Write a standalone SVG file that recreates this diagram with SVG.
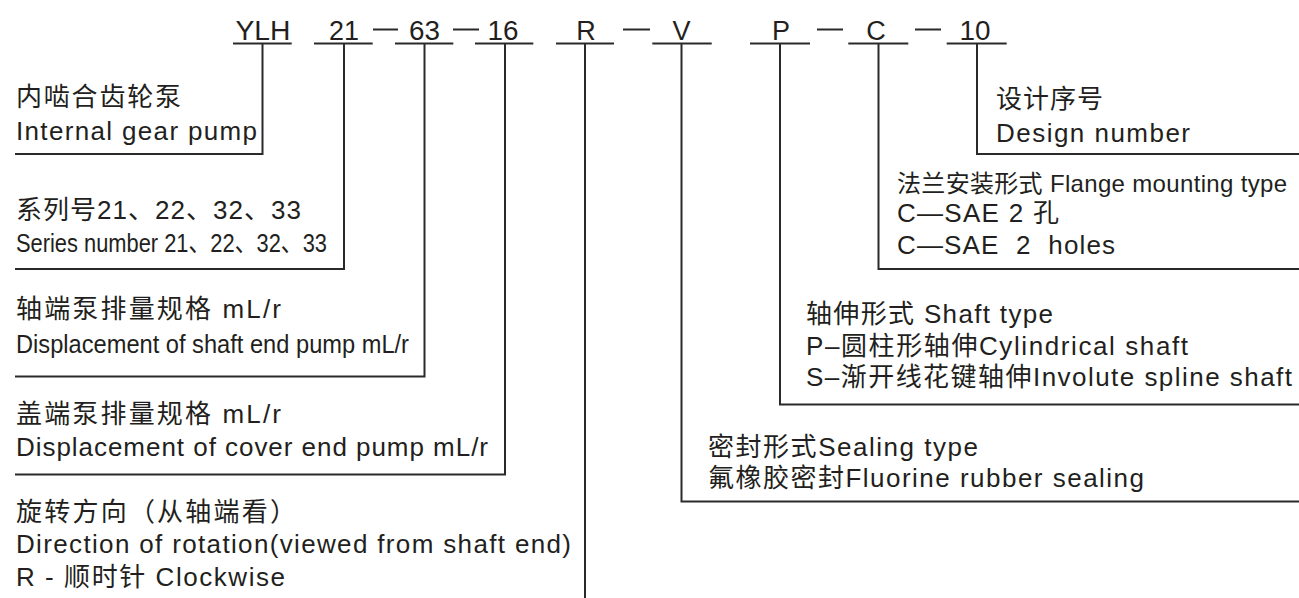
<svg xmlns="http://www.w3.org/2000/svg" width="1299" height="598" viewBox="0 0 1299 598">
<style>
text{font-family:"Liberation Sans","Noto Sans CJK SC",sans-serif;font-size:26px;fill:#231f20}
.code{font-size:27px;text-anchor:middle}
.sm{font-size:24px}
.ln{fill:none;stroke:#2a2a2a;stroke-width:2}
.ul{fill:none;stroke:#2a2a2a;stroke-width:2}
</style>
<rect width="1299" height="598" fill="#fff"/>
<g id="code">
<text class="code" x="263" y="40" textLength="55" lengthAdjust="spacingAndGlyphs">YLH</text>
<text class="code" x="344" y="40" textLength="30" lengthAdjust="spacingAndGlyphs">21</text>
<text class="code" x="424.5" y="40" textLength="31" lengthAdjust="spacingAndGlyphs">63</text>
<text class="code" x="503" y="40" textLength="31" lengthAdjust="spacingAndGlyphs">16</text>
<text class="code" x="586" y="40">R</text>
<text class="code" x="681.5" y="40">V</text>
<text class="code" x="781" y="40">P</text>
<text class="code" x="876" y="40">C</text>
<text class="code" x="975" y="40" textLength="31" lengthAdjust="spacingAndGlyphs">10</text>
<path class="ul" d="M233 43.5H291.7M314 43.5H372.7M395 43.5H453.3M475 43.5H533.3M556 43.5H614M652.3 43.5H711.7M750 43.5H810M848.3 43.5H908.3M946.7 43.5H1006.7"/>
<path class="ul" d="M373 29.5H398M453 29.5H479M623 29.5H650M817 29.5H843M915 29.5H941"/>
</g>
<g id="connectors">
<path class="ln" d="M262.5 43.5V154H15"/>
<path class="ln" d="M344 43.5V269H15"/>
<path class="ln" d="M424.5 43.5V376.5H15"/>
<path class="ln" d="M505 43.5V474.5H15"/>
<path class="ln" d="M585 43.5V598"/>
<path class="ln" d="M681.5 43.5V501.5H1299"/>
<path class="ln" d="M780 43.5V404.5H1299"/>
<path class="ln" d="M878.5 43.5V269H1299"/>
<path class="ln" d="M977 43.5V154H1299"/>
</g>
<g id="node-type">
<text x="16" y="106" textLength="165" lengthAdjust="spacing">内啮合齿轮泵</text>
<text x="16" y="139.5" textLength="241" lengthAdjust="spacing">Internal gear pump</text>
</g>
<g id="node-series">
<text x="16" y="218.5" textLength="285" lengthAdjust="spacing">系列号21、22、32、33</text>
<text x="16" y="251.5" textLength="311" lengthAdjust="spacingAndGlyphs">Series number 21、22、32、33</text>
</g>
<g id="node-shaft-disp">
<text x="16" y="318" textLength="265" lengthAdjust="spacing">轴端泵排量规格 mL/r</text>
<text x="16" y="353" textLength="393" lengthAdjust="spacingAndGlyphs">Displacement of shaft end pump mL/r</text>
</g>
<g id="node-cover-disp">
<text x="16" y="423" textLength="265" lengthAdjust="spacing">盖端泵排量规格 mL/r</text>
<text x="16" y="455.5" textLength="472" lengthAdjust="spacing">Displacement of cover end pump mL/r</text>
</g>
<g id="node-rotation">
<text x="16" y="521" textLength="280" lengthAdjust="spacing">旋转方向（从轴端看）</text>
<text x="16" y="553" textLength="555" lengthAdjust="spacing">Direction of rotation(viewed from shaft end)</text>
<text x="16" y="586" textLength="269" lengthAdjust="spacing">R - 顺时针 Clockwise</text>
</g>
<g id="node-seal">
<text x="708" y="456" textLength="270" lengthAdjust="spacing">密封形式Sealing type</text>
<text x="708" y="487" textLength="436" lengthAdjust="spacing">氟橡胶密封Fluorine rubber sealing</text>
</g>
<g id="node-shaft-type">
<text x="806" y="323" textLength="247" lengthAdjust="spacing">轴伸形式 Shaft type</text>
<text x="806" y="354.5" textLength="382" lengthAdjust="spacing">P–圆柱形轴伸Cylindrical shaft</text>
<text x="806" y="386" textLength="486" lengthAdjust="spacing">S–渐开线花键轴伸Involute spline shaft</text>
</g>
<g id="node-flange">
<text class="sm" x="897" y="191.5" textLength="390" lengthAdjust="spacing">法兰安装形式 Flange mounting type</text>
<text x="897" y="221.5" textLength="162" lengthAdjust="spacing">C—SAE 2 孔</text>
<text x="897" y="254" textLength="218" lengthAdjust="spacing" xml:space="preserve">C—SAE  2  holes</text>
</g>
<g id="node-design">
<text x="996" y="108" textLength="107" lengthAdjust="spacing">设计序号</text>
<text x="996" y="141.5" textLength="194" lengthAdjust="spacing">Design number</text>
</g>
</svg>
